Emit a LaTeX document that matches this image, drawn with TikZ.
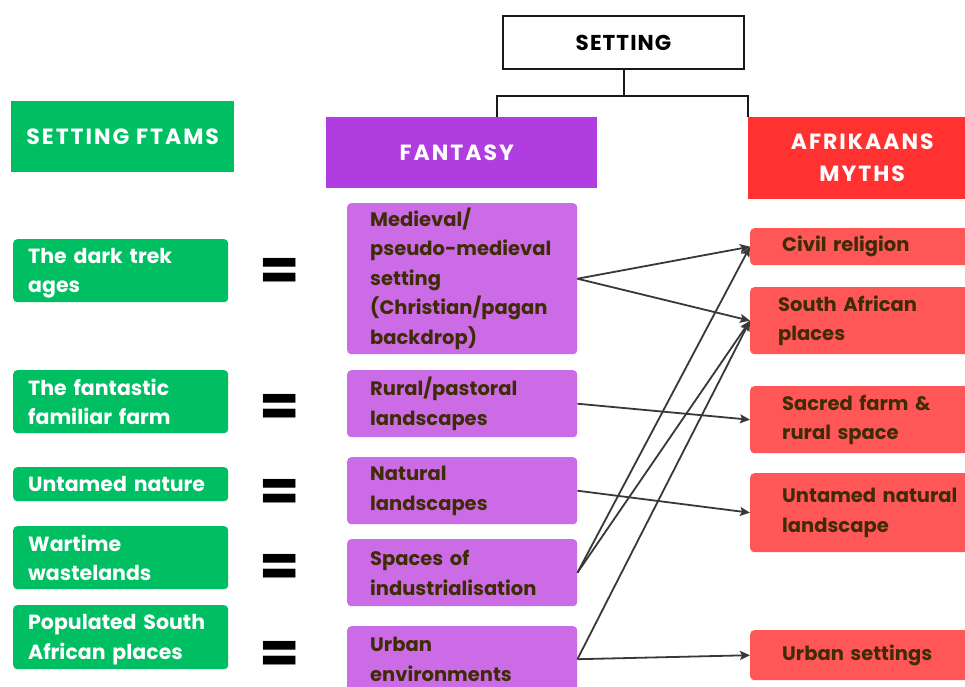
\documentclass[tikz,border=0pt]{standalone}
\usepackage{fontspec}
\setmainfont{Poppins}
\newfontfamily\headfont[LetterSpace=9]{Poppins}
\usetikzlibrary{arrows.meta}

\definecolor{ftgreen}{HTML}{00BF63}
\definecolor{fanhead}{HTML}{B03DE0}
\definecolor{fanitem}{HTML}{CB6CE6}
\definecolor{mythhead}{HTML}{FF3131}
\definecolor{mythitem}{HTML}{FF5757}
\definecolor{itemtext}{HTML}{3F2C06}
\definecolor{linkgray}{HTML}{383838}

\tikzset{
  box/.style={anchor=north west, inner ysep=0pt, align=left,
    font=\fontsize{19.5}{29.5}\selectfont\bfseries},
  heading/.style={anchor=north west, inner sep=0pt, align=center,
    font=\headfont\fontsize{22}{32}\selectfont\bfseries, text=white},
  greenitem/.style={box, fill=ftgreen, text=white, rounded corners=4pt,
    inner xsep=15pt, text width=185pt,
    font=\fontsize{20.5}{29.5}\selectfont\bfseries},
  fanbox/.style={box, fill=fanitem, text=itemtext, rounded corners=4pt,
    inner xsep=23pt, text width=184pt},
  mythbox/.style={box, fill=mythitem, text=itemtext, rounded corners=4pt,
    inner xsep=32pt, text width=186pt},
  equal/.style={font=\fontsize{58}{58}\selectfont\bfseries, inner sep=0pt},
  tree/.style={draw=black!90, line width=2pt},
  link/.style={draw=linkgray, line width=1.8pt,
    -{Stealth[length=10pt,width=9pt,inset=2pt]}}
}

\begin{document}
\begin{tikzpicture}[x=1pt,y=-1pt]
\path[use as bounding box, clip] (0,0) rectangle (965,686);
\fill[white] (0,0) rectangle (965,686);

% top node and its two branches
\node[anchor=north west, draw=black!90, line width=2pt, fill=white,
  minimum width=241pt, minimum height=53pt,
  font=\fontsize{21.5}{24}\selectfont\bfseries] (setting) at (502,15)
  {\addfontfeatures{LetterSpace=5}SETTING};

% column headings
\node[heading, fill=ftgreen, minimum width=223pt, minimum height=71pt]
  (ftams) at (11,101) {SETTING FTAMS};
\node[heading, fill=fanhead, minimum width=271pt, minimum height=71pt]
  (fantasy) at (326,117) {\hspace*{-10pt}FANTASY};
\node[heading, fill=mythhead, minimum width=240pt, minimum height=82pt,
  text width=240pt] (myths) at (748,117) {\hspace*{-12pt}AFRIKAANS\\\hspace*{-12pt}MYTHS};

\draw[tree] (setting.south) -- ++(0,26) coordinate (hub);
\draw[tree] ([xshift=171pt]fantasy.north west) |- (hub) -| (myths.north west);

% setting categories
\node[greenitem, minimum height=63pt] (trek) at (13,239) {\rule{0pt}{20pt}The dark trek\\ages};
\node[greenitem, minimum height=63pt] (farm) at (13,370) {The fantastic\\familiar farm};
\node[greenitem, minimum height=34pt] (wild) at (13,467) {Untamed nature};
\node[greenitem, minimum height=63pt] (war)  at (13,526) {Wartime\\wastelands};
\node[greenitem, minimum height=64pt] (pop)  at (13,605) {\rule{0pt}{20pt}Populated South\\African places};

% equals signs
\node[equal] (eq1) at (280,274) {=};
\node[equal] (eq2) at (280,410) {=};
\node[equal] (eq3) at (280,495) {=};
\node[equal] (eq4) at (280,570) {=};
\node[equal] (eq5) at (280,657) {=};

% fantasy settings
\node[fanbox, minimum height=151pt] (med) at (347,203)
  {Medieval/\\pseudo-medieval\\setting\\(Christian/pagan\\backdrop)};
\node[fanbox, minimum height=67pt] (rural)   at (347,370) {Rural/pastoral\\landscapes};
\node[fanbox, minimum height=67pt] (natural) at (347,457) {Natural\\landscapes};
\node[fanbox, minimum height=67pt] (indus)   at (347,539) {Spaces of\\industrialisation};
\node[fanbox, minimum height=66pt] (urban)   at (347,626) {Urban\\environments};

% Afrikaans myths
\node[mythbox, minimum height=37pt] (civil)    at (750,228) {Civil religion};
\node[mythbox, minimum height=67pt] (saplaces) at (750,287) {\hspace*{-4pt}South African\\\hspace*{-4pt}places};
\node[mythbox, minimum height=67pt] (sacred)   at (750,386) {Sacred farm \&\\rural space};
\node[mythbox, minimum height=79pt] (untamed)  at (750,473) {Untamed natural\\landscape};
\node[mythbox, minimum height=50pt] (urbset)   at (750,630) {Urban settings};

% links between fantasy settings and myths
\draw[link] (med.east) -- (civil.west);
\draw[link] (med.east) -- (saplaces.west);
\draw[link] (rural.east) -- (sacred.west);
\draw[link] (natural.east) -- (untamed.west);
\draw[link] (indus.east) -- (civil.west);
\draw[link] (indus.east) -- (saplaces.west);
\draw[link] (urban.east) -- (saplaces.west);
\draw[link] (urban.east) -- (urbset.west);
\end{tikzpicture}
\end{document}
